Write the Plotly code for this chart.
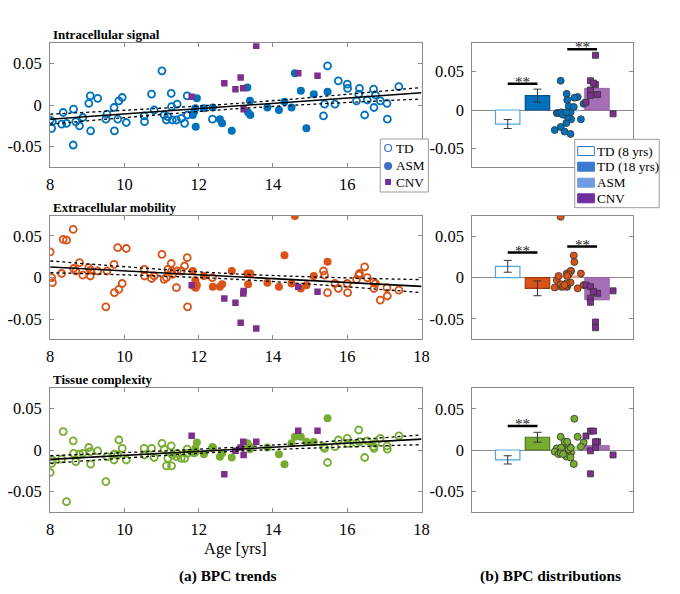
import plotly.graph_objects as go

FONT = "Liberation Serif"
W, H = 680, 594

# ---------------- data ----------------
td_age = [8.00, 8.04, 8.06, 8.31, 8.35, 8.44, 8.62, 8.63, 8.69, 8.79,
          8.88, 9.04, 9.08, 9.09, 9.28, 9.50, 9.53, 9.72, 9.73, 9.82,
          9.85, 9.94, 10.05, 10.53, 10.54, 10.73, 10.80, 11.01, 11.07, 11.13,
          11.17, 11.26, 11.27, 11.29, 11.40, 11.42, 11.53, 11.62, 11.69, 11.70,
          12.37, 15.36, 15.39, 15.47, 15.67, 15.76, 16.00, 16.01, 16.25, 16.31,
          16.33, 16.47, 16.54, 16.71, 16.72, 16.76, 16.89, 17.07, 17.08, 17.39]
td_sig = [-0.018, -0.028, -0.020, -0.023, -0.009, -0.022, -0.048, -0.005, -0.020, -0.025,
          -0.015, 0.002, 0.011, -0.031, 0.008, -0.017, -0.011, -0.003, -0.031, -0.017,
          0.005, 0.009, -0.021, -0.013, -0.020, 0.013, -0.006, 0.041, -0.012, -0.018,
          -0.014, 0.014, -0.002, -0.018, -0.018, 0.001, -0.016, -0.022, 0.011, -0.012,
          -0.017, -0.013, 0.001, 0.047, 0.001, 0.029, 0.025, 0.020, 0.005, 0.013,
          0.020, -0.012, 0.006, 0.019, -0.003, 0.012, 0.005, 0.002, -0.017, 0.022]
td_ext = [0.031, 0.000, -0.006, 0.005, 0.046, 0.045, 0.058, 0.011, 0.008, 0.018,
          0.003, 0.012, 0.002, 0.009, 0.008, -0.035, 0.008, 0.016, -0.018, 0.036,
          -0.014, -0.007, 0.035, 0.010, 0.002, -0.001, 0.002, 0.028, -0.002, 0.000,
          0.010, 0.017, 0.008, 0.004, -0.012, 0.008, 0.008, 0.014, 0.024, -0.035,
          0.000, 0.008, 0.003, -0.018, -0.007, -0.013, -0.007, -0.018, -0.002, 0.003,
          0.005, 0.013, 0.000, -0.005, -0.013, -0.007, -0.027, -0.012, -0.022, -0.015]
td_tis = [-0.027, -0.016, -0.012, -0.011, 0.022, -0.062, 0.011, -0.004, -0.014, -0.005,
          -0.004, 0.003, -0.002, -0.017, -0.001, -0.038, -0.008, -0.012, -0.005, -0.006,
          0.012, 0.002, -0.012, 0.002, -0.006, 0.002, -0.009, 0.008, 0.001, -0.019,
          -0.010, 0.005, -0.019, -0.006, -0.008, -0.004, -0.010, -0.010, 0.001, -0.004,
          0.003, 0.004, 0.002, -0.015, 0.004, 0.012, 0.014, 0.008, 0.008, 0.024,
          0.010, -0.009, 0.011, 0.004, 0.002, 0.008, 0.014, 0.005, 0.001, 0.017]

asm_age = [11.84, 11.88, 11.91, 11.92, 11.95, 12.14, 12.38, 12.57, 12.63, 12.89,
           13.31, 13.33, 13.38, 13.39, 13.85, 14.16, 14.31, 14.50, 14.59, 14.75,
           14.90, 15.10, 15.47]
asm_sig = [-0.012, -0.008, -0.004, -0.026, 0.008, -0.004, -0.003, -0.017, -0.022, -0.031,
           0.021, -0.009, 0.005, -0.012, -0.003, -0.006, 0.004, -0.003, 0.038, 0.017,
           -0.028, 0.013, 0.016]
asm_ext = [0.008, -0.011, -0.003, -0.012, -0.009, 0.002, -0.011, -0.011, -0.008, 0.008,
           0.005, -0.008, 0.004, 0.005, -0.006, -0.011, 0.027, -0.007, 0.074, -0.013,
           -0.009, 0.002, 0.019]
asm_tis = [-0.003, -0.004, 0.002, -0.002, 0.009, -0.005, 0.003, -0.008, -0.004, -0.009,
           0.008, 0.006, 0.001, 0.004, 0.003, -0.005, -0.017, 0.008, 0.016, 0.016,
           0.010, 0.010, 0.038]
asm_jitter = [0.13, 0.00, -0.35, -0.42, 0.55, -0.29, -0.20, -0.03, -0.22, 0.11,
              -0.02, 0.02, 0.05, 0.46, 0.11, -0.14, 0.22, -0.03, -0.22, 0.35,
              -0.09, 0.00, 0.24]

cnv_age = [11.81, 12.69, 12.99, 13.13, 13.20, 13.21, 13.55, 14.68, 15.20]
cnv_sig = [0.010, 0.026, 0.019, 0.033, 0.020, -0.005, 0.071, 0.038, 0.035]
cnv_ext = [-0.009, -0.025, -0.030, -0.054, -0.019, -0.016, -0.061, -0.011, -0.017]
cnv_tis = [0.017, -0.029, -0.001, 0.003, 0.010, -0.006, 0.010, 0.023, 0.023]
cnv_jitter = [-0.37, -0.22, -0.22, -0.05, 0.02, 0.54, -0.05, -0.22, -0.12]

# regression fits (value at ages 8, 13, 18) and confidence bands
fit_age = [8, 13, 18]
sig_fit = [-0.0171, -0.0012, 0.0147]
sig_lo = [-0.0230, -0.0045, 0.0072]
sig_hi = [-0.0110, 0.0018, 0.0210]
ext_fit = [0.0128, 0.0012, -0.0105]
ext_lo = [0.0060, -0.0020, -0.0180]
ext_hi = [0.0200, 0.0045, -0.0024]
tis_fit = [-0.0113, 0.0009, 0.0130]
tis_lo = [-0.0160, -0.0015, 0.0064]
tis_hi = [-0.0069, 0.0033, 0.0180]

# bar charts: TD (8 yrs), TD (18 yrs), ASM, CNV
bar_pos = [1, 2, 3, 4]
sig_bar = [-0.0182, 0.0186, -0.0010, 0.0281]
sig_err = [0.0058, 0.0085]
ext_bar = [0.0138, -0.0130, 0.0020, -0.0270]
ext_err = [0.0072, 0.0090]
tis_bar = [-0.0120, 0.0155, 0.0040, 0.0053]
tis_err = [0.0050, 0.0060]
sig_stars = [(1, 2, 0.0342), (3, 4, 0.0788)]
ext_stars = [(1, 2, 0.0305), (3, 4, 0.0378)]
tis_stars = [(1, 2, 0.0293)]

panel_titles = ["Intracellular signal", "Extracellular mobility", "Tissue complexity"]
x_ticks_top = [8, 10, 12, 14, 16]
x_ticks = [8, 10, 12, 14, 16, 18]
y_ticks = [-0.05, 0, 0.05]
y_ticktext = ["-0.05", "0", "0.05"]

# ---------------- styles ----------------
BLUE, ORANGE, GREEN, PURPLE = "#0072BD", "#D95319", "#77AC30", "#7E2F8E"
AX = "#8a8a8a"
TICK_SIZE = 16.5
LEG_SIZE = 13.2

rows = [
    dict(color=BLUE, dark="#00508a", light="#8cbbe6", td=td_sig, asm=asm_sig, cnv=cnv_sig,
         fit=sig_fit, lo=sig_lo, hi=sig_hi, bar=sig_bar, err=sig_err, stars=sig_stars,
         yr_right=[-0.0736, 0.0866], top=43.3, bot=166.7, xt=x_ticks_top),
    dict(color=ORANGE, dark="#a03a0e", light="#f2a27c", td=td_ext, asm=asm_ext, cnv=cnv_ext,
         fit=ext_fit, lo=ext_lo, hi=ext_hi, bar=ext_bar, err=ext_err, stars=ext_stars,
         yr_right=[-0.075, 0.075], top=216.0, bot=339.3, xt=x_ticks),
    dict(color=GREEN, dark="#527a1f", light="#b5d88f", td=td_tis, asm=asm_tis, cnv=cnv_tis,
         fit=tis_fit, lo=tis_lo, hi=tis_hi, bar=tis_bar, err=tis_err, stars=tis_stars,
         yr_right=[-0.075, 0.075], top=388.3, bot=511.7, xt=x_ticks),
]

def px(x):
    return x / W

def py(y):
    return 1 - y / H

L_DOM = [px(47), px(425)]
R_DOM = [px(476.7), px(640)]

fig = go.Figure()
layout = dict(
    width=W, height=H, margin=dict(l=0, r=0, t=0, b=0),
    paper_bgcolor="white", plot_bgcolor="white", showlegend=False,
    font=dict(family=FONT, size=15, color="black"),
)
annotations = []
shapes = []

def note(text, x, y, size, xanchor="center", bold=False, **kw):
    annotations.append(dict(text=f"<b>{text}</b>" if bold else text, x=x, y=y,
                            xref=kw.get("xref", "paper"), yref=kw.get("yref", "paper"),
                            xanchor=xanchor, yanchor=kw.get("yanchor", "middle"),
                            yshift=kw.get("yshift", 0), showarrow=False,
                            font=dict(family=FONT, size=size, color=kw.get("color", "black"))))

for i, r in enumerate(rows):
    lx, rx = 2 * i + 1, 2 * i + 2
    ydom = [py(r["bot"]), py(r["top"])]
    common = dict(showline=True, linecolor=AX, linewidth=1, mirror="ticks", ticks="inside",
                  ticklen=4, tickcolor=AX, showgrid=False, zeroline=False,
                  tickfont=dict(family=FONT, size=TICK_SIZE, color="black"))
    layout[f"xaxis{lx}"] = dict(common, domain=L_DOM, anchor=f"y{lx}", range=[8, 18],
                                tickvals=r["xt"], ticklabelstandoff=2)
    layout[f"yaxis{lx}"] = dict(common, domain=ydom, anchor=f"x{lx}", range=[-0.074, 0.074],
                                tickvals=y_ticks, ticktext=y_ticktext, ticklabelstandoff=4)
    layout[f"xaxis{rx}"] = dict(common, domain=R_DOM, anchor=f"y{rx}", range=[-0.19, 5.2],
                                showticklabels=False, ticks="")
    layout[f"yaxis{rx}"] = dict(common, domain=ydom, anchor=f"x{rx}", range=r["yr_right"],
                                tickvals=y_ticks, ticktext=y_ticktext, ticklabelstandoff=4,
                                zeroline=True, zerolinecolor=AX, zerolinewidth=1)
    xa, ya = f"x{lx}", f"y{lx}"
    xb, yb = f"x{rx}", f"y{rx}"

    # ----- left: trends -----
    fig.add_trace(go.Scatter(x=td_age, y=r["td"], mode="markers", xaxis=xa, yaxis=ya,
                             marker=dict(symbol="circle-open", size=7, color=r["color"],
                                         line=dict(width=1.8))))
    fig.add_trace(go.Scatter(x=asm_age, y=r["asm"], mode="markers", xaxis=xa, yaxis=ya,
                             marker=dict(symbol="circle", size=8, color=r["color"])))
    fig.add_trace(go.Scatter(x=cnv_age, y=r["cnv"], mode="markers", xaxis=xa, yaxis=ya,
                             marker=dict(symbol="square", size=6.5, color=PURPLE)))
    fig.add_trace(go.Scatter(x=fit_age, y=r["fit"], mode="lines", xaxis=xa, yaxis=ya,
                             line=dict(color="black", width=1.6)))
    for band in (r["lo"], r["hi"]):
        fig.add_trace(go.Scatter(x=fit_age, y=band, mode="lines", xaxis=xa, yaxis=ya,
                                 line=dict(color="black", width=1.3, dash="dot", shape="spline")))
    note(panel_titles[i], px(48), py(r["top"] - 8.5), 13, xanchor="left", bold=True)

    # ----- right: distributions -----
    fig.add_trace(go.Bar(x=bar_pos[:2], y=r["bar"][:2], width=0.82, xaxis=xb, yaxis=yb,
                         marker=dict(color=["white", r["color"]],
                                     line=dict(color=["#4da6e0", r["dark"]], width=1.2)),
                         error_y=dict(type="data", array=r["err"], color="#333333",
                                      thickness=1, width=4)))
    fig.add_trace(go.Bar(x=bar_pos[2:], y=r["bar"][2:], width=0.82, xaxis=xb, yaxis=yb,
                         marker=dict(color=[r["light"], "#a46fb4"],
                                     line=dict(color=[r["light"], "#9a62ab"], width=1))))
    fig.add_trace(go.Scatter(x=[3 + j for j in asm_jitter], y=r["asm"], mode="markers",
                             xaxis=xb, yaxis=yb,
                             marker=dict(symbol="circle", size=7, color=r["color"],
                                         line=dict(color="#333333", width=0.8))))
    fig.add_trace(go.Scatter(x=[4 + j for j in cnv_jitter], y=r["cnv"], mode="markers",
                             xaxis=xb, yaxis=yb,
                             marker=dict(symbol="square", size=6, color=PURPLE,
                                         line=dict(color="#333333", width=0.8))))
    for (a, b, yv) in r["stars"]:
        fig.add_trace(go.Scatter(x=[a, b], y=[yv, yv], mode="lines", xaxis=xb, yaxis=yb,
                                 line=dict(color="black", width=2.5)))
        note("**", (a + b) / 2, yv, 15, xref=xb, yref=yb, yanchor="bottom", yshift=-8,
             color="#222222")

# ----- bottom labels -----
note("Age [yrs]", px(236), py(548), 16.5)
note("(a) BPC trends", px(228), py(576), 15.3, bold=True)
note("(b) BPC distributions", px(556), py(576), 15.4, bold=True)

# ----- legend (a) -----
shapes.append(dict(type="rect", xref="paper", yref="paper", x0=px(383), x1=px(432),
                   y0=py(192), y1=py(139), line=dict(color="#9a9a9a", width=1),
                   fillcolor="white", layer="above"))
leg_a = [("TD", 148, "open"), ("ASM", 166, "fill"), ("CNV", 182, "square")]
for name, yy, kind in leg_a:
    if kind == "square":
        shapes.append(dict(type="rect", xref="paper", yref="paper", x0=px(388), x1=px(394),
                           y0=py(yy + 3), y1=py(yy - 3), fillcolor="#7030A0",
                           line=dict(width=0), layer="above"))
    else:
        shapes.append(dict(type="circle", xref="paper", yref="paper", x0=px(387.5), x1=px(394.5),
                           y0=py(yy + 3.5), y1=py(yy - 3.5),
                           fillcolor="white" if kind == "open" else "#3f6fc6",
                           line=dict(color="#3f6fc6", width=1.2), layer="above"))
    note(name, px(397), py(yy), LEG_SIZE, xanchor="left")

# ----- legend (b) -----
shapes.append(dict(type="rect", xref="paper", yref="paper", x0=px(581), x1=px(667),
                   y0=py(207.7), y1=py(139.3), line=dict(color="#9a9a9a", width=1),
                   fillcolor="white", layer="above"))
leg_b = [("TD (8 yrs)", 151, "white", "#3a72cf"), ("TD (18 yrs)", 166.7, "#3a78d0", "#3a78d0"),
         ("ASM", 182.7, "#6d9de0", "#6d9de0"), ("CNV", 198.3, "#7030A0", "#7030A0")]
for name, yy, fc, lc in leg_b:
    shapes.append(dict(type="rect", xref="paper", yref="paper", x0=px(584), x1=px(601),
                       y0=py(yy + 4.5), y1=py(yy - 4.5), fillcolor=fc,
                       line=dict(color=lc, width=1), layer="above"))
    note(name, px(601.5), py(yy), LEG_SIZE, xanchor="left")

layout["annotations"] = annotations
layout["shapes"] = shapes
fig.update_layout(**layout)
fig.write_html("out.html", config={"displayModeBar": False},
               post_script="document.body.style.margin='0';")
